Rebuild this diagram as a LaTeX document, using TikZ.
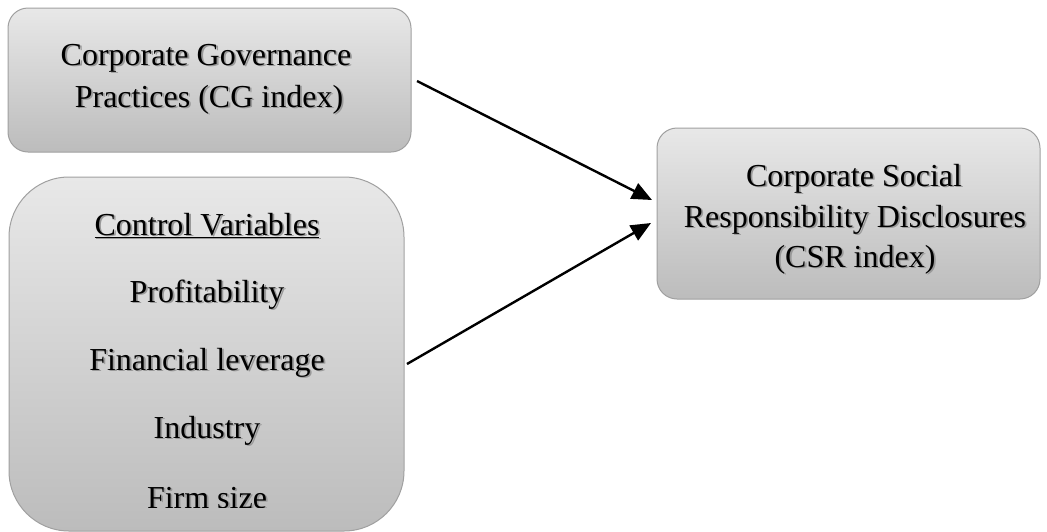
\documentclass[tikz,border=0pt]{standalone}
\usepackage{fontspec}
\setmainfont{Liberation Serif}
\usetikzlibrary{arrows.meta}
\definecolor{boxtop}{RGB}{232,232,232}
\definecolor{boxbot}{RGB}{188,188,188}
\definecolor{boxline}{RGB}{160,160,160}
\newcommand\shd[1]{\makebox[0pt][l]{\hspace{1.8pt}\raisebox{-1.8pt}{\color{black!40}#1}}#1}
\tikzset{
  box/.style={draw=boxline, line width=1pt, top color=boxtop, bottom color=boxbot,
    anchor=north west, inner sep=0pt, outer sep=0pt},
  lbl/.style={anchor=base, font=\fontsize{32}{38}\selectfont, inner sep=0pt},
  arr/.style={line width=2.4pt, -{Triangle[length=20pt,width=17pt]}}
}
\begin{document}
\begin{tikzpicture}[x=1pt,y=-1pt]
\useasboundingbox (0,0) rectangle (1047,531);
% boxes
\node[box, rounded corners=20pt, minimum width=403pt, minimum height=144pt] (b1) at (8,8) {};
\node[box, rounded corners=60pt, minimum width=395pt, minimum height=354pt] (b2) at (9,177) {};
\node[box, rounded corners=20pt, minimum width=383pt, minimum height=171pt] (b3) at (657,128) {};
% box 1 text
\node[lbl] (t11) at (206,65) {\shd{Corporate Governance}};
\node[lbl] (t12) at (209,107) {\shd{Practices (CG index)}};
% box 2 text
\node[lbl] (t21) at (207,235) {\shd{\underline{Control Variables}}};
\node[lbl] (t22) at (207,302) {\shd{Profitability}};
\node[lbl] (t23) at (207,370) {\shd{Financial leverage}};
\node[lbl] (t24) at (207,438) {\shd{Industry}};
\begin{scope}
  \clip (0,0) rectangle (1047,507);
  \node[lbl] (t25) at (207,508) {\shd{Firm size}};
\end{scope}
% box 3 text
\node[lbl] (t31) at (854,186) {\shd{Corporate Social}};
\node[lbl] (t32) at (855,227) {\shd{Responsibility Disclosures}};
\node[lbl] (t33) at (855,267) {\shd{(CSR index)}};
% arrows
\draw[arr] ([xshift=6pt,yshift=-1pt]b1.east) -- ([xshift=-5pt,yshift=13.5pt]b3.west);
\draw[arr] ([xshift=3pt,yshift=-10pt]b2.east) -- ([xshift=-6pt,yshift=-9.5pt]b3.west);
\end{tikzpicture}
\end{document}
